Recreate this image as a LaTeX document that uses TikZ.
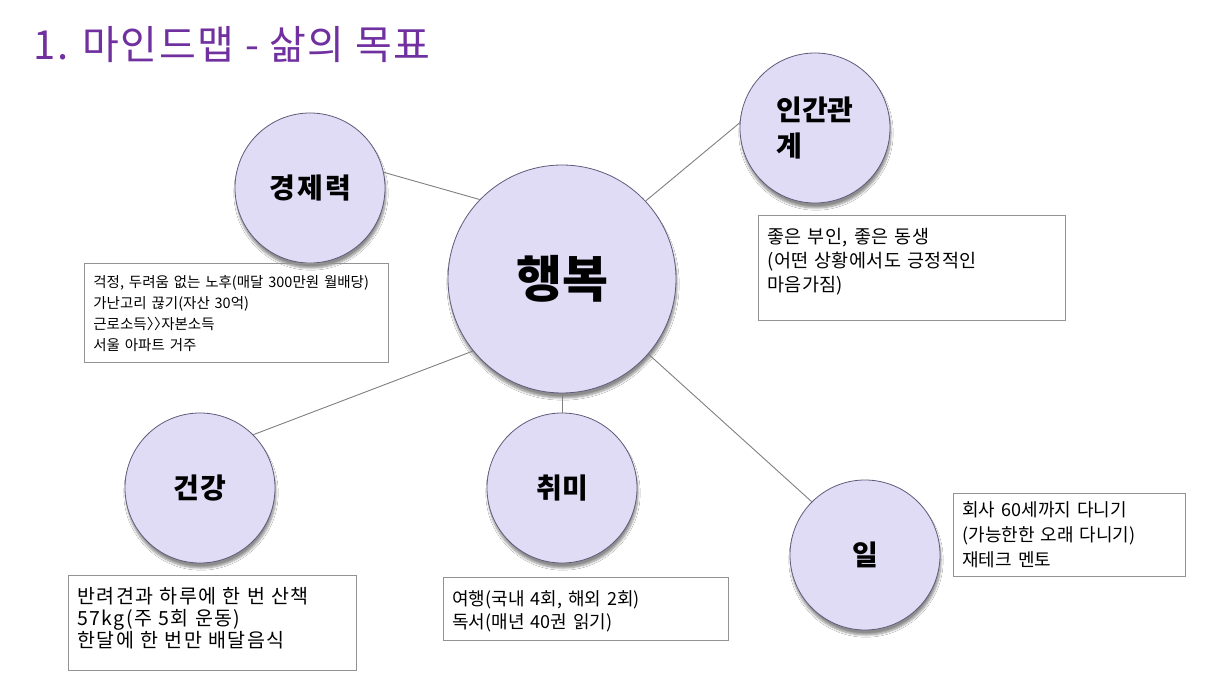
\documentclass[tikz,border=0pt]{standalone}
\usepackage{fontspec}
\setmainfont{Noto Sans CJK KR}
\usetikzlibrary{shadows.blur}
\definecolor{bubblefill}{HTML}{E1DCF5}
\definecolor{bubbleline}{HTML}{5F5B7A}
\definecolor{titlepurple}{HTML}{7030A0}
\tikzset{
  bubble/.style={circle, fill=bubblefill, draw=bubbleline, line width=0.8pt, minimum size=150pt, inner sep=0pt,
    font=\fontsize{28pt}{36pt}\selectfont\bfseries,
    blur shadow={shadow xshift=1pt, shadow yshift=-5pt, shadow blur steps=8, shadow opacity=45}},
  memo/.style={draw=gray!85, line width=0.8pt, anchor=north west, align=left, inner xsep=9pt, inner ysep=0pt,
    font=\fontsize{18pt}{24pt}\selectfont},
  link/.style={draw=gray, line width=0.9pt}
}
\begin{document}
\begin{tikzpicture}[x=1pt, y=-1pt]
\useasboundingbox[fill=white] (0,0) rectangle (1216,684);
\node[anchor=west, text=titlepurple, font=\fontsize{40pt}{44pt}\selectfont\addfontfeature{LetterSpace=4}] (title) at (30,45) {1. 마인드맵 - 삶의 목표};

\node[bubble, minimum size=228pt, font=\fontsize{50pt}{60pt}\selectfont\bfseries] (happy) at (562,279) {행복};
\node[bubble, font=\fontsize{28pt}{36pt}\selectfont\bfseries\addfontfeature{LetterSpace=8}] (money) at (310,188) {경제력};
\node[bubble, align=left] (people) at (815,128) {인간관\\계};
\node[bubble, font=\fontsize{28pt}{36pt}\selectfont\bfseries\addfontfeature{LetterSpace=6}] (health) at (200,488) {건강};
\node[bubble] (hobby) at (562,488) {취미};
\node[bubble] (work) at (865,555) {일};

\foreach \a/\b in {happy.136/money.12, happy.43/people.176, happy.219/health.45, happy.270/hobby.90, happy.-41/work.135}
{
    \draw[link] (\a) -- (\b);
}

\node[memo, text width=286pt, text height=24pt, text depth=75pt, font=\fontsize{14.5pt}{21pt}\selectfont] (moneynote) at (84,263)
  {걱정, 두려움 없는 노후(매달 300만원 월배당)\\가난고리 끊기(자산 30억)\\근로소득〉\kern-0.5em〉\kern-0.5em자본소득\\서울 아파트 거주};
\node[memo, text width=289pt, text height=28pt, text depth=77pt, font=\fontsize{18.5pt}{24pt}\selectfont\addfontfeature{LetterSpace=2}] (peoplenote) at (758,215)
  {좋은 부인, 좋은 동생\\(어떤 상황에서도 긍정적인\\마음가짐)};
\node[memo, text width=270pt, text height=28pt, text depth=67pt, font=\fontsize{19.5pt}{22pt}\selectfont\addfontfeature{LetterSpace=7}] (healthnote) at (68,575)
  {반려견과 하루에 한 번 산책\\57kg(주 5회 운동)\\한달에 한 번만 배달음식};
\node[memo, text width=267pt, text height=28pt, text depth=35pt, font=\fontsize{18pt}{23pt}\selectfont] (hobbynote) at (443,577)
  {여행(국내 4회, 해외 2회)\\독서(매년 40권 읽기)};
\node[memo, text width=214pt, text height=23pt, text depth=60pt, font=\fontsize{18pt}{25pt}\selectfont] (worknote) at (953,493)
  {회사 60세까지 다니기\\(가능한한 오래 다니기)\\재테크 멘토};
\end{tikzpicture}
\end{document}
